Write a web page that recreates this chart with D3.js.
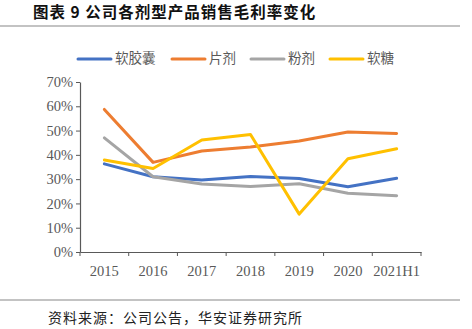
<!DOCTYPE html>
<html>
<head>
<meta charset="utf-8">
<script src="https://cdn.jsdelivr.net/npm/d3@7"></script>
<style>
  body { margin: 0; background: #fff; }
</style>
</head>
<body>
<div id="chart"></div>
<script>
const years = ["2015", "2016", "2017", "2018", "2019", "2020", "2021H1"];
const softCapsule = [36.3, 31.0, 29.6, 31.1, 30.3, 26.9, 30.4];
const tablet = [58.7, 36.9, 41.6, 43.2, 45.7, 49.4, 48.8];
const powder = [47.0, 31.0, 28.0, 27.0, 28.1, 24.2, 23.2];
const gummy = [37.9, 34.4, 46.1, 48.4, 15.6, 38.4, 42.5];
const yTicks = [0, 10, 20, 30, 40, 50, 60, 70];

const series = [
    { name: "软胶囊", values: softCapsule, color: "#4472C4" },
    { name: "片剂", values: tablet, color: "#ED7D31" },
    { name: "粉剂", values: powder, color: "#A5A5A5" },
    { name: "软糖", values: gummy, color: "#FFC000" }
];

const width = 472, height = 329;
const svg = d3.select("#chart")
              .append("svg")
              .attr("width", width)
              .attr("height", height);

const cjk = "'Noto Sans CJK SC', sans-serif";
const serif = "'Liberation Serif', 'Times New Roman', serif";

// title and rules
svg.append("text")
   .text("图表 9 公司各剂型产品销售毛利率变化")
   .attr("x", 33)
   .attr("y", 18)
   .style("font-family", cjk)
   .style("font-weight", "bold")
   .style("font-size", "15.5px")
   .style("letter-spacing", "1px")
   .attr("fill", "#111");

svg.append("line")
   .attr("x1", 0).attr("x2", 460)
   .attr("y1", 26).attr("y2", 26)
   .attr("stroke", "#888")
   .attr("stroke-width", 1.2);

svg.append("line")
   .attr("x1", 0).attr("x2", 460)
   .attr("y1", 300).attr("y2", 300)
   .attr("stroke", "#888")
   .attr("stroke-width", 1.2);

svg.append("text")
   .text("资料来源：公司公告，华安证券研究所")
   .attr("x", 48)
   .attr("y", 323)
   .style("font-family", cjk)
   .style("font-size", "14px")
   .style("letter-spacing", "1px")
   .attr("fill", "#222");

// scales
const xScale = d3.scaleBand()
                 .domain(years)
                 .range([80, 421]);

const yScale = d3.scaleLinear()
                 .domain([0, 70])
                 .range([252, 82]);

const axisColor = "#595959";

const yAxis = svg.append("g")
                 .attr("transform", "translate(80,0)")
                 .call(d3.axisLeft(yScale)
                         .tickValues(yTicks)
                         .tickSize(4)
                         .tickSizeOuter(0)
                         .tickPadding(3)
                         .tickFormat(d => d + "%"));

const xAxis = svg.append("g")
                 .attr("transform", "translate(0,252)")
                 .call(d3.axisBottom(xScale).tickSize(0).tickPadding(14));

// category boundary ticks on the x axis
xAxis.selectAll(".boundary")
     .data(years.concat(["end"]))
     .join("line")
     .attr("class", "boundary")
     .attr("x1", (d, i) => 80 + i * xScale.step())
     .attr("x2", (d, i) => 80 + i * xScale.step())
     .attr("y1", 0)
     .attr("y2", 4)
     .attr("stroke", axisColor);

[yAxis, xAxis].forEach(g => {
    g.select(".domain").attr("stroke", axisColor).attr("stroke-width", 1.2);
    g.selectAll(".tick line").attr("stroke", axisColor);
    g.selectAll("text")
     .style("font-family", serif)
     .style("font-size", "14.5px")
     .attr("fill", "#595959");
});

// series lines
const line = d3.line()
               .x((d, i) => xScale(years[i]) + xScale.bandwidth() / 2)
               .y(d => yScale(d));

svg.selectAll(".series")
   .data(series)
   .join("path")
   .attr("class", "series")
   .attr("d", d => line(d.values))
   .attr("fill", "none")
   .attr("stroke", d => d.color)
   .attr("stroke-width", 3)
   .attr("stroke-linejoin", "round")
   .attr("stroke-linecap", "round");

// legend
const legendX = [78, 172, 251, 330];
const legend = svg.selectAll(".legend")
                  .data(series)
                  .join("g")
                  .attr("class", "legend")
                  .attr("transform", (d, i) => `translate(${legendX[i]},59)`);

legend.append("line")
      .attr("x1", 0).attr("x2", 33)
      .attr("y1", 0).attr("y2", 0)
      .attr("stroke", d => d.color)
      .attr("stroke-width", 3)
      .attr("stroke-linecap", "round");

legend.append("text")
      .text(d => d.name)
      .attr("x", 37)
      .attr("y", 0)
      .style("dominant-baseline", "middle")
      .style("font-family", cjk)
      .style("font-size", "13.5px")
      .attr("fill", "#595959");
</script>
</body>
</html>
